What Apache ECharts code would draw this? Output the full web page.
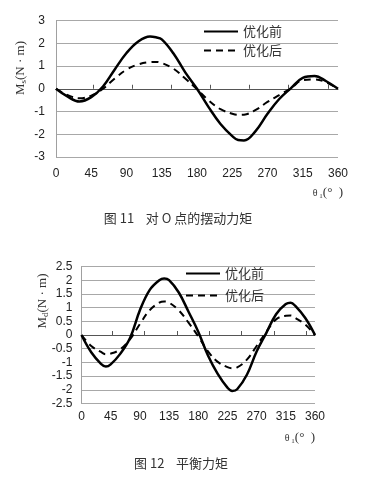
<!DOCTYPE html>
<html><head><meta charset="utf-8">
<script src="https://cdn.jsdelivr.net/npm/echarts@6/dist/echarts.min.js"></script>
<style>html,body{margin:0;padding:0;background:#fff}#c{width:365px;height:484px}</style>
</head><body><div id="c"></div>
<script>
const anglesMs = [0,15,30,45,60,75,90,105,120,127.5,135,150,165,180,195,210,225,232.5,240,255,270,285,300,315,330,345,360];
const msBefore = [0,-0.35,-0.56,-0.37,0.1,0.85,1.57,2.08,2.3,2.26,2.17,1.55,0.72,0,-0.82,-1.55,-2.08,-2.25,-2.27,-1.85,-1.1,-0.45,0.03,0.48,0.56,0.33,0];
const msAfter = [0,-0.28,-0.42,-0.3,0,0.45,0.84,1.07,1.17,1.18,1.13,0.88,0.45,-0.02,-0.52,-0.9,-1.1,-1.15,-1.14,-0.93,-0.58,-0.28,0.02,0.38,0.41,0.28,0];
const anglesMd = [0,15,30,37.5,45,60,75,90,105,120,127.5,135,150,165,180,195,210,225,232.5,240,255,270,285,300,315,322.5,330,345,360];
const mdBefore = [0,-0.63,-1.05,-1.15,-1.07,-0.68,-0.1,0.9,1.64,2.0,2.06,2.0,1.55,0.85,0.12,-0.75,-1.42,-1.92,-2.04,-1.98,-1.45,-0.6,0.08,0.76,1.13,1.18,1.05,0.62,0];
const mdAfter = [0,-0.4,-0.62,-0.7,-0.68,-0.52,-0.15,0.4,0.9,1.18,1.22,1.18,0.9,0.45,-0.05,-0.6,-0.98,-1.17,-1.21,-1.18,-0.9,-0.4,0.12,0.57,0.7,0.71,0.62,0.38,0];
const tickMarks = [47.5,97.5,147,197,247,297,347];
const seriesNames = ['优化前','优化后'];
const caption1 = '图 11    对 O 点的摆动力矩';
const caption2 = '图 12    平衡力矩';

const chart = echarts.init(document.getElementById('c'));
const sans = 'Liberation Sans, Arial, sans-serif';
const cjk = 'Noto Sans CJK SC';
const serif = 'Liberation Serif, serif';
const pairs = (xs, arr) => xs.map((a, i) => [a, arr[i]]);

function labelAxis(grid, margin) {
  return {
    type: 'value', gridIndex: grid, min: 0, max: 360, interval: 45,
    axisLine: { show: false, onZero: false },
    axisTick: { show: false },
    splitLine: { show: false },
    axisLabel: { margin: margin, fontSize: 12, color: '#222', fontFamily: sans }
  };
}
function zeroAxis(grid) {
  return {
    type: 'value', gridIndex: grid, min: 0, max: 360,
    axisLine: { show: true, onZero: true, lineStyle: { color: '#555', width: 1 } },
    axisTick: { show: true, customValues: tickMarks, length: 4, lineStyle: { color: '#555' } },
    axisLabel: { show: false },
    splitLine: { show: false }
  };
}
function yAxis(grid, min, max, interval, margin) {
  return {
    type: 'value', gridIndex: grid, min: min, max: max, interval: interval,
    axisLine: { show: true, lineStyle: { color: '#a0a0a0' } },
    axisTick: { show: false },
    splitLine: { show: true, lineStyle: { color: '#a8a8a8', width: 1 } },
    axisLabel: { margin: margin, fontSize: 12, color: '#222', fontFamily: sans }
  };
}
function line(name, xs, data, xi, yi, dashed) {
  return {
    type: 'line', name: name, data: pairs(xs, data), xAxisIndex: xi, yAxisIndex: yi,
    smooth: 0.4, symbol: 'none', color: '#000',
    lineStyle: dashed ? { color: '#000', width: 2, type: [7, 5] } : { color: '#000', width: 2.5 }
  };
}
function legend(left, top, gap) {
  return {
    data: seriesNames, orient: 'vertical', left: left, top: top, padding: 0,
    itemWidth: 34, itemHeight: 14, itemGap: gap, selectedMode: false,
    itemStyle: { opacity: 0 },
    textStyle: { fontSize: 13, color: '#333', fontFamily: cjk }
  };
}
function vText(x, y, sub) {
  return {
    type: 'text', x: x, y: y, rotation: Math.PI / 2,
    style: {
      text: '{a|M}{b|' + sub + '}{a|(N · m)}',
      textAlign: 'center', textVerticalAlign: 'middle',
      rich: {
        a: { fontSize: 13, fontFamily: serif, fill: '#333' },
        b: { fontSize: 9, fontFamily: serif, fill: '#333', verticalAlign: 'bottom', padding: [5, 0, 0, 0] }
      }
    }
  };
}
function thetaText(x, y) {
  return {
    type: 'text', x: x, y: y,
    style: {
      text: '{t|θ}{s| 1}{p|(°  )}',
      textAlign: 'center', textVerticalAlign: 'middle',
      rich: {
        t: { fontSize: 10, fontFamily: serif, fill: '#333' },
        s: { fontSize: 7, fontFamily: serif, fill: '#333', verticalAlign: 'bottom', padding: [4, 0, 0, 0] },
        p: { fontSize: 13, fontFamily: serif, fill: '#333' }
      }
    }
  };
}
function caption(x, y, text) {
  return {
    type: 'text', x: x, y: y,
    style: { text: text, textAlign: 'center', textVerticalAlign: 'middle', fontSize: 13, fontFamily: cjk, fill: '#333' }
  };
}

chart.setOption({
  animation: false,
  backgroundColor: '#fff',
  grid: [
    { left: 56, top: 20.5, width: 282, height: 136.5 },
    { left: 81.5, top: 266.5, width: 233.5, height: 137 }
  ],
  xAxis: [labelAxis(0, 11), zeroAxis(0), labelAxis(1, 7), zeroAxis(1)],
  yAxis: [yAxis(0, -3, 3, 1, 11), yAxis(1, -2.5, 2.5, 0.5, 9)],
  legend: [legend(203, 25, 6), legend(185, 267, 9)],
  series: [
    line(seriesNames[0], anglesMs, msBefore, 0, 0, false),
    line(seriesNames[1], anglesMs, msAfter, 0, 0, true),
    line(seriesNames[0], anglesMd, mdBefore, 2, 1, false),
    line(seriesNames[1], anglesMd, mdAfter, 2, 1, true)
  ],
  graphic: [
    vText(21, 68, 's'),
    vText(43, 301, 'd'),
    thetaText(328, 193),
    thetaText(300, 438),
    caption(178, 218, caption1),
    caption(181, 463, caption2)
  ]
});
</script></body></html>
